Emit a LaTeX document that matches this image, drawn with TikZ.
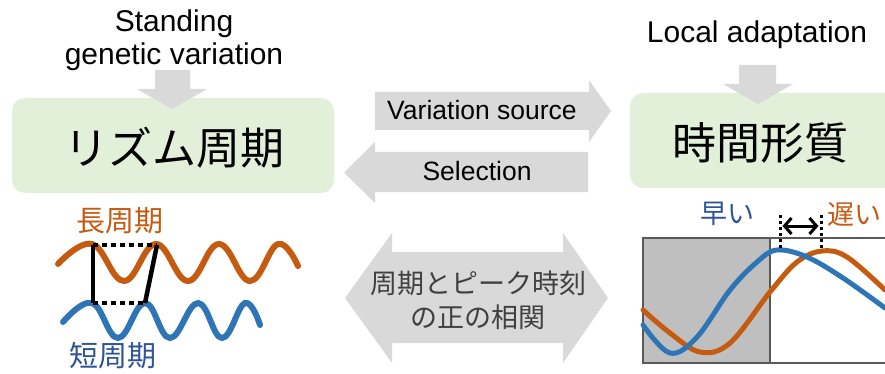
\documentclass[tikz,border=0pt]{standalone}
\usepackage{fontspec}
\setmainfont{Liberation Sans}
\newfontfamily\jp{Noto Sans CJK JP}
\usetikzlibrary{arrows.meta}
\definecolor{arrowgray}{HTML}{D9D9D9}
\definecolor{boxgreen}{HTML}{E2F0D9}
\definecolor{orng}{HTML}{C55A11}
\definecolor{wblue}{HTML}{2E75B6}
\definecolor{tblue}{HTML}{2F5597}
\definecolor{framegray}{HTML}{595959}
\definecolor{darkfill}{HTML}{BFBFBF}
\definecolor{jtext}{HTML}{404040}
\begin{document}
\begin{tikzpicture}[x=1pt,y=-1pt,
  gbox/.style={fill=boxgreen, rounded corners=13pt, draw=none},
  blockarrow/.style={fill=arrowgray, draw=none},
  lbl/.style={inner sep=0pt, font=\fontsize{30}{34}\selectfont, align=center},
  albl/.style={inner sep=0pt, font=\fontsize{26.5}{30}\selectfont},
  bigjp/.style={inner sep=0pt, font=\jp\fontsize{44}{50}\selectfont},
  jplbl/.style={inner sep=0pt, font=\jp\fontsize{29}{34}\selectfont},
  smalljp/.style={inner sep=0pt, font=\jp\fontsize{27}{32}\selectfont},
  wave/.style={line width=6pt, line cap=round},
  thinwave/.style={line width=5pt, line cap=round},
  blackline/.style={line width=4.5pt, black},
  dotline/.style={line width=4.5pt, black, dash pattern=on 4.5pt off 4.5pt},
  smalldot/.style={line width=3pt, black, dash pattern=on 3pt off 3pt},
  frame/.style={draw=framegray, line width=1.8pt}
]
\useasboundingbox (0,0) rectangle (885,374);
\clip (0,0) rectangle (885,374);

% green boxes
\fill[gbox] (12,98) rectangle (334,193);
\fill[gbox] (630,93) rectangle (900,188);
\node[bigjp] (rhythm) at (174,148) {リズム周期};
\node[bigjp] (timing) at (760,143) {時間形質};

% top labels
\node[lbl, anchor=base] (sgv1) at (174,32) {Standing};
\node[lbl, anchor=base] (sgv2) at (174,65) {genetic variation};
\node[lbl, anchor=base] (local) at (757,43) {Local adaptation};

% down arrows
\fill[blockarrow] (155,70) -- (190,70) -- (190,89) -- (207,89) -- (172,109) -- (137,89) -- (155,89) -- cycle;
\fill[blockarrow] (739,65) -- (776,65) -- (776,84) -- (793,84) -- (758,104) -- (723,84) -- (739,84) -- cycle;

% middle arrows
\fill[blockarrow] (375,92) -- (589,92) -- (589,80) -- (611,111) -- (589,142) -- (589,130) -- (375,130) -- cycle;
\node[albl, anchor=base] (varsrc) at (482,120) {Variation source};
\fill[blockarrow] (588,152) -- (375,152) -- (375,142) -- (344,172.5) -- (375,203) -- (375,192) -- (588,192) -- cycle;
\node[albl, anchor=base] (sel) at (477,180) {Selection};
\fill[blockarrow] (345,298) -- (392,233) -- (392,252) -- (563,252) -- (563,233) -- (608,298) -- (563,363) -- (563,343) -- (392,343) -- (392,363) -- cycle;
\node[smalljp, text=jtext, align=center] (corr) at (478,300) {周期とピーク時刻\\[2pt]の正の相関};

% left wave panel
\node[jplbl, text=orng] (long) at (120,221) {長周期};
\node[jplbl, text=tblue] (short) at (113,356) {短周期};
\draw[wave, orng] plot[smooth, tension=0.7] coordinates {(58,264) (92,244) (124,281) (156,244) (188,281) (219,244) (250,281) (278,244) (298,266)};
\draw[wave, wblue] plot[smooth, tension=0.7] coordinates {(63,322) (92,303) (118,338) (145,303) (170,338) (198,303) (222,338) (245,303) (260,325)};
\coordinate (lt) at (93,245);
\coordinate (lb) at (93,303);
\coordinate (rt) at (157,245);
\coordinate (rb) at (145,303);
\draw[blackline] (lt) -- (lb);
\draw[blackline] (rt) -- (rb);
\draw[dotline] (lt) -- (rt);
\draw[dotline] (lb) -- (rb);

% right panel
\fill[darkfill] (643,238) rectangle (770,363);
\draw[frame] (900,238) -- (643,238) -- (643,363) -- (900,363);
\draw[frame] (770,238) -- (770,363);
\draw[thinwave, orng] plot[smooth, tension=0.6] coordinates {(643,310) (670,333) (700,352) (730,343) (770,292) (797,262) (822,251) (847,257) (885,290)};
\draw[thinwave, wblue] plot[smooth, tension=0.6] coordinates {(643,325) (670,353) (697,337) (730,290) (757,262) (777,250) (807,257) (843,278) (885,308)};
\node[smalljp, text=tblue] (early) at (727,214) {早い};
\node[smalljp, text=orng, anchor=west] (late) at (827,214) {遅い};
\coordinate (d1t) at (780,215);
\coordinate (d1b) at (780,251);
\coordinate (d2t) at (821,215);
\coordinate (d2b) at (821,251);
\draw[smalldot] (d1t) -- (d1b);
\draw[smalldot] (d2t) -- (d2b);
\draw[line width=3pt, {Straight Barb[length=7pt,width=16pt]}-{Straight Barb[length=7pt,width=16pt]}] ([xshift=2.5pt,yshift=-11pt]d1t) -- ([xshift=-2.5pt,yshift=-11pt]d2t);
\end{tikzpicture}
\end{document}
